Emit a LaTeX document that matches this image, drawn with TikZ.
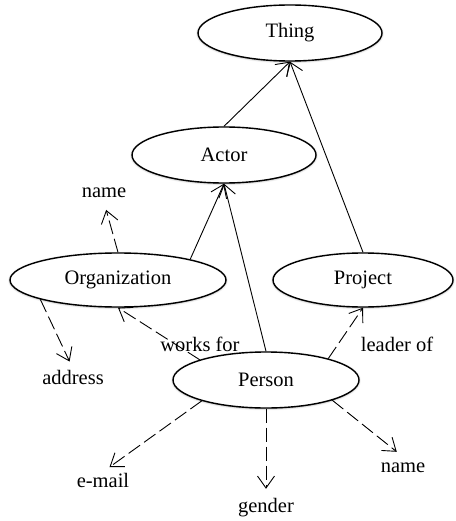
\documentclass[tikz,border=0pt]{standalone}
\usepackage{fontspec}
\setmainfont{Liberation Serif}
\usetikzlibrary{arrows.meta,shapes.geometric,shadows.blur}
\begin{document}
\begin{tikzpicture}[x=1pt,y=-1pt,
  cls/.style={ellipse,draw,line width=1.4pt,fill=white,inner sep=0pt,
    blur shadow={shadow blur radius=2pt,shadow xshift=0pt,shadow yshift=-0.5pt,shadow opacity=45},
    font=\fontsize{20.5}{22}\selectfont},
  lbl/.style={inner sep=1pt,text height=14pt,text depth=4pt,font=\fontsize{20.5}{22}\selectfont},
  isa/.style={line width=0.9pt,-{Straight Barb[length=12pt,width=17pt,line width=0.9pt]}},
  prop/.style={isa,dash pattern=on 14pt off 5pt},
  lab/.style={prop,shorten >=8pt}]
\useasboundingbox (0,0) rectangle (455,521);
\node[cls,minimum width=184pt,minimum height=56pt] (thing) at (290,33) {Thing};
\node[cls,minimum width=184pt,minimum height=56pt] (actor) at (224,155) {Actor};
\node[cls,minimum width=216pt,minimum height=54pt] (org) at (118,280) {Organization};
\node[cls,minimum width=180pt,minimum height=54pt] (proj) at (363,280) {Project};
\node[cls,minimum width=186pt,minimum height=56pt] (person) at (266,380) {Person};
\node[lbl] (name1) at (104,192) {name};
\node[lbl] (addr) at (73,379) {address};
\node[lbl] (email) at (103,482) {e-mail};
\node[lbl] (gender) at (266,507) {gender};
\node[lbl] (name2) at (403,467) {name};
\draw[isa] (actor.north) -- (thing.south);
\draw[isa] (proj.north) -- (thing.south);
\draw[isa] (org.16) -- (actor.south);
\draw[isa] (person.north) -- (actor.south);
\draw[lab] (org.north) -- (name1.south);
\draw[lab] (org.194) -- (addr.north);
\draw[prop] (person.163) -- (org.south);
\draw[prop] (person.19) -- (proj.south);
\draw[lab] (person.198) -- (email.north);
\draw[lab] (person.south) -- (gender.north);
\draw[lab] (person.343) -- (name2.north);
\node[lbl] (worksfor) at (200,346) {works for};
\node[lbl] (leaderof) at (397,346) {leader of};
\end{tikzpicture}
\end{document}
